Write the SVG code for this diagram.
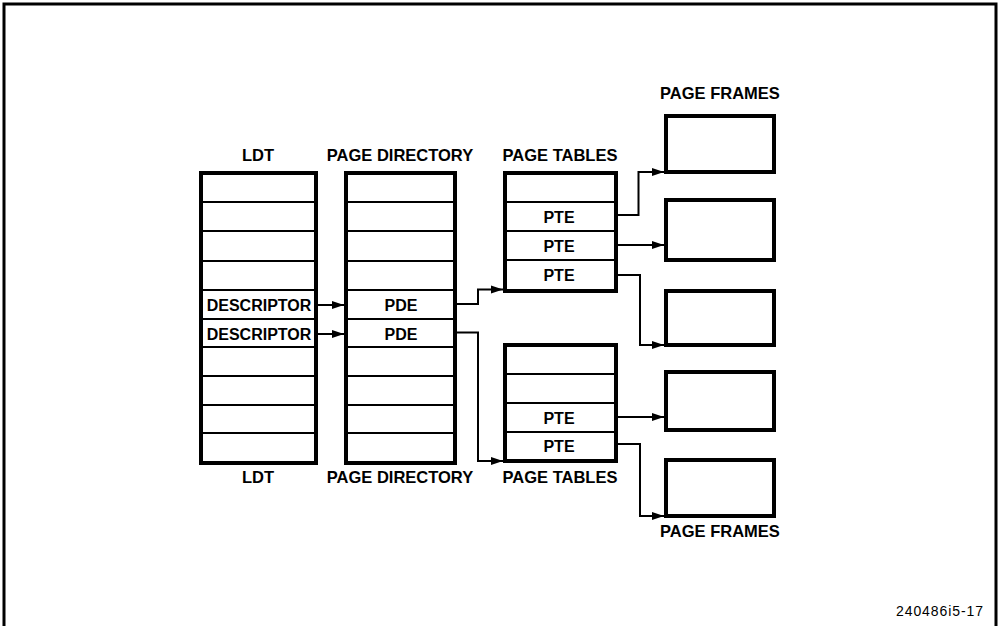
<svg xmlns="http://www.w3.org/2000/svg" width="998" height="626" viewBox="0 0 998 626">
<style>
.box{fill:#fff;stroke:#000;stroke-width:4}
.div{stroke:#000;stroke-width:2}
.frame{fill:#fff;stroke:#000;stroke-width:4}
.lbl{font-family:"Liberation Sans",Arial,sans-serif;font-weight:bold;font-size:16.5px;text-anchor:middle;fill:#000}
.cell{font-family:"Liberation Sans",Arial,sans-serif;font-weight:bold;font-size:16px;text-anchor:middle;fill:#000}
.conn{fill:none;stroke:#000;stroke-width:2}
</style>
<defs>
<marker id="ah" markerWidth="12" markerHeight="10" refX="12" refY="5" orient="auto" markerUnits="userSpaceOnUse">
<path d="M0,1 L12,5 L0,9 Z" fill="#000"/>
</marker>
</defs>
<rect width="998" height="626" fill="#fff"/>
<path d="M4,626 V4 H996 V626" fill="none" stroke="#000" stroke-width="3"/>

<g id="ldt">
<text class="lbl" x="258" y="161">LDT</text>
<rect class="box" x="201" y="173" width="115" height="290"/>
<path class="div" d="M201,202 H316 M201,231 H316 M201,261 H316 M201,290 H316 M201,319 H316 M201,347 H316 M201,376 H316 M201,405 H316 M201,433 H316"/>
<text class="cell" x="259" y="311">DESCRIPTOR</text>
<text class="cell" x="259" y="340">DESCRIPTOR</text>
<text class="lbl" x="258" y="483">LDT</text>
</g>

<g id="pagedir">
<text class="lbl" x="400" y="161">PAGE DIRECTORY</text>
<rect class="box" x="346" y="173" width="109" height="290"/>
<path class="div" d="M346,202 H455 M346,231 H455 M346,261 H455 M346,290 H455 M346,319 H455 M346,347 H455 M346,376 H455 M346,405 H455 M346,433 H455"/>
<text class="cell" x="401" y="311">PDE</text>
<text class="cell" x="401" y="340">PDE</text>
<text class="lbl" x="400" y="483">PAGE DIRECTORY</text>
</g>

<g id="pagetable1">
<text class="lbl" x="560" y="161">PAGE TABLES</text>
<rect class="box" x="505" y="173" width="111" height="118"/>
<path class="div" d="M505,202 H616 M505,231 H616 M505,260 H616"/>
<text class="cell" x="559" y="223">PTE</text>
<text class="cell" x="559" y="252">PTE</text>
<text class="cell" x="559" y="281">PTE</text>
</g>

<g id="pagetable2">
<rect class="box" x="505" y="345" width="111" height="116"/>
<path class="div" d="M505,374 H616 M505,403 H616 M505,432 H616"/>
<text class="cell" x="559" y="424">PTE</text>
<text class="cell" x="559" y="452">PTE</text>
<text class="lbl" x="560" y="483">PAGE TABLES</text>
</g>

<g id="frames1">
<text class="lbl" x="720" y="99">PAGE FRAMES</text>
<rect class="frame" x="666" y="116" width="108" height="56"/>
</g>
<g id="frame2"><rect class="frame" x="666" y="200" width="108" height="60"/></g>
<g id="frame3"><rect class="frame" x="666" y="291" width="108" height="54"/></g>
<g id="frame4"><rect class="frame" x="666" y="372" width="108" height="58"/></g>
<g id="frames5">
<rect class="frame" x="666" y="460" width="108" height="56"/>
<text class="lbl" x="720" y="537">PAGE FRAMES</text>
</g>

<g id="connectors">
<path class="conn" marker-end="url(#ah)" d="M318,305 H344"/>
<path class="conn" marker-end="url(#ah)" d="M318,334 H344"/>
<path class="conn" marker-end="url(#ah)" d="M457,304 H478 V289.5 H503"/>
<path class="conn" marker-end="url(#ah)" d="M457,332.5 H478 V461 H503"/>
<path class="conn" marker-end="url(#ah)" d="M618,215 H638.5 V172 H664"/>
<path class="conn" marker-end="url(#ah)" d="M618,245 H664"/>
<path class="conn" marker-end="url(#ah)" d="M618,275 H640 V345 H664"/>
<path class="conn" marker-end="url(#ah)" d="M618,417 H664"/>
<path class="conn" marker-end="url(#ah)" d="M618,444 H640 V516 H664"/>
</g>

<text x="983" y="616" font-family="Liberation Sans, Arial, sans-serif" font-size="14" text-anchor="end" textLength="87" fill="#000">240486i5-17</text>
</svg>
